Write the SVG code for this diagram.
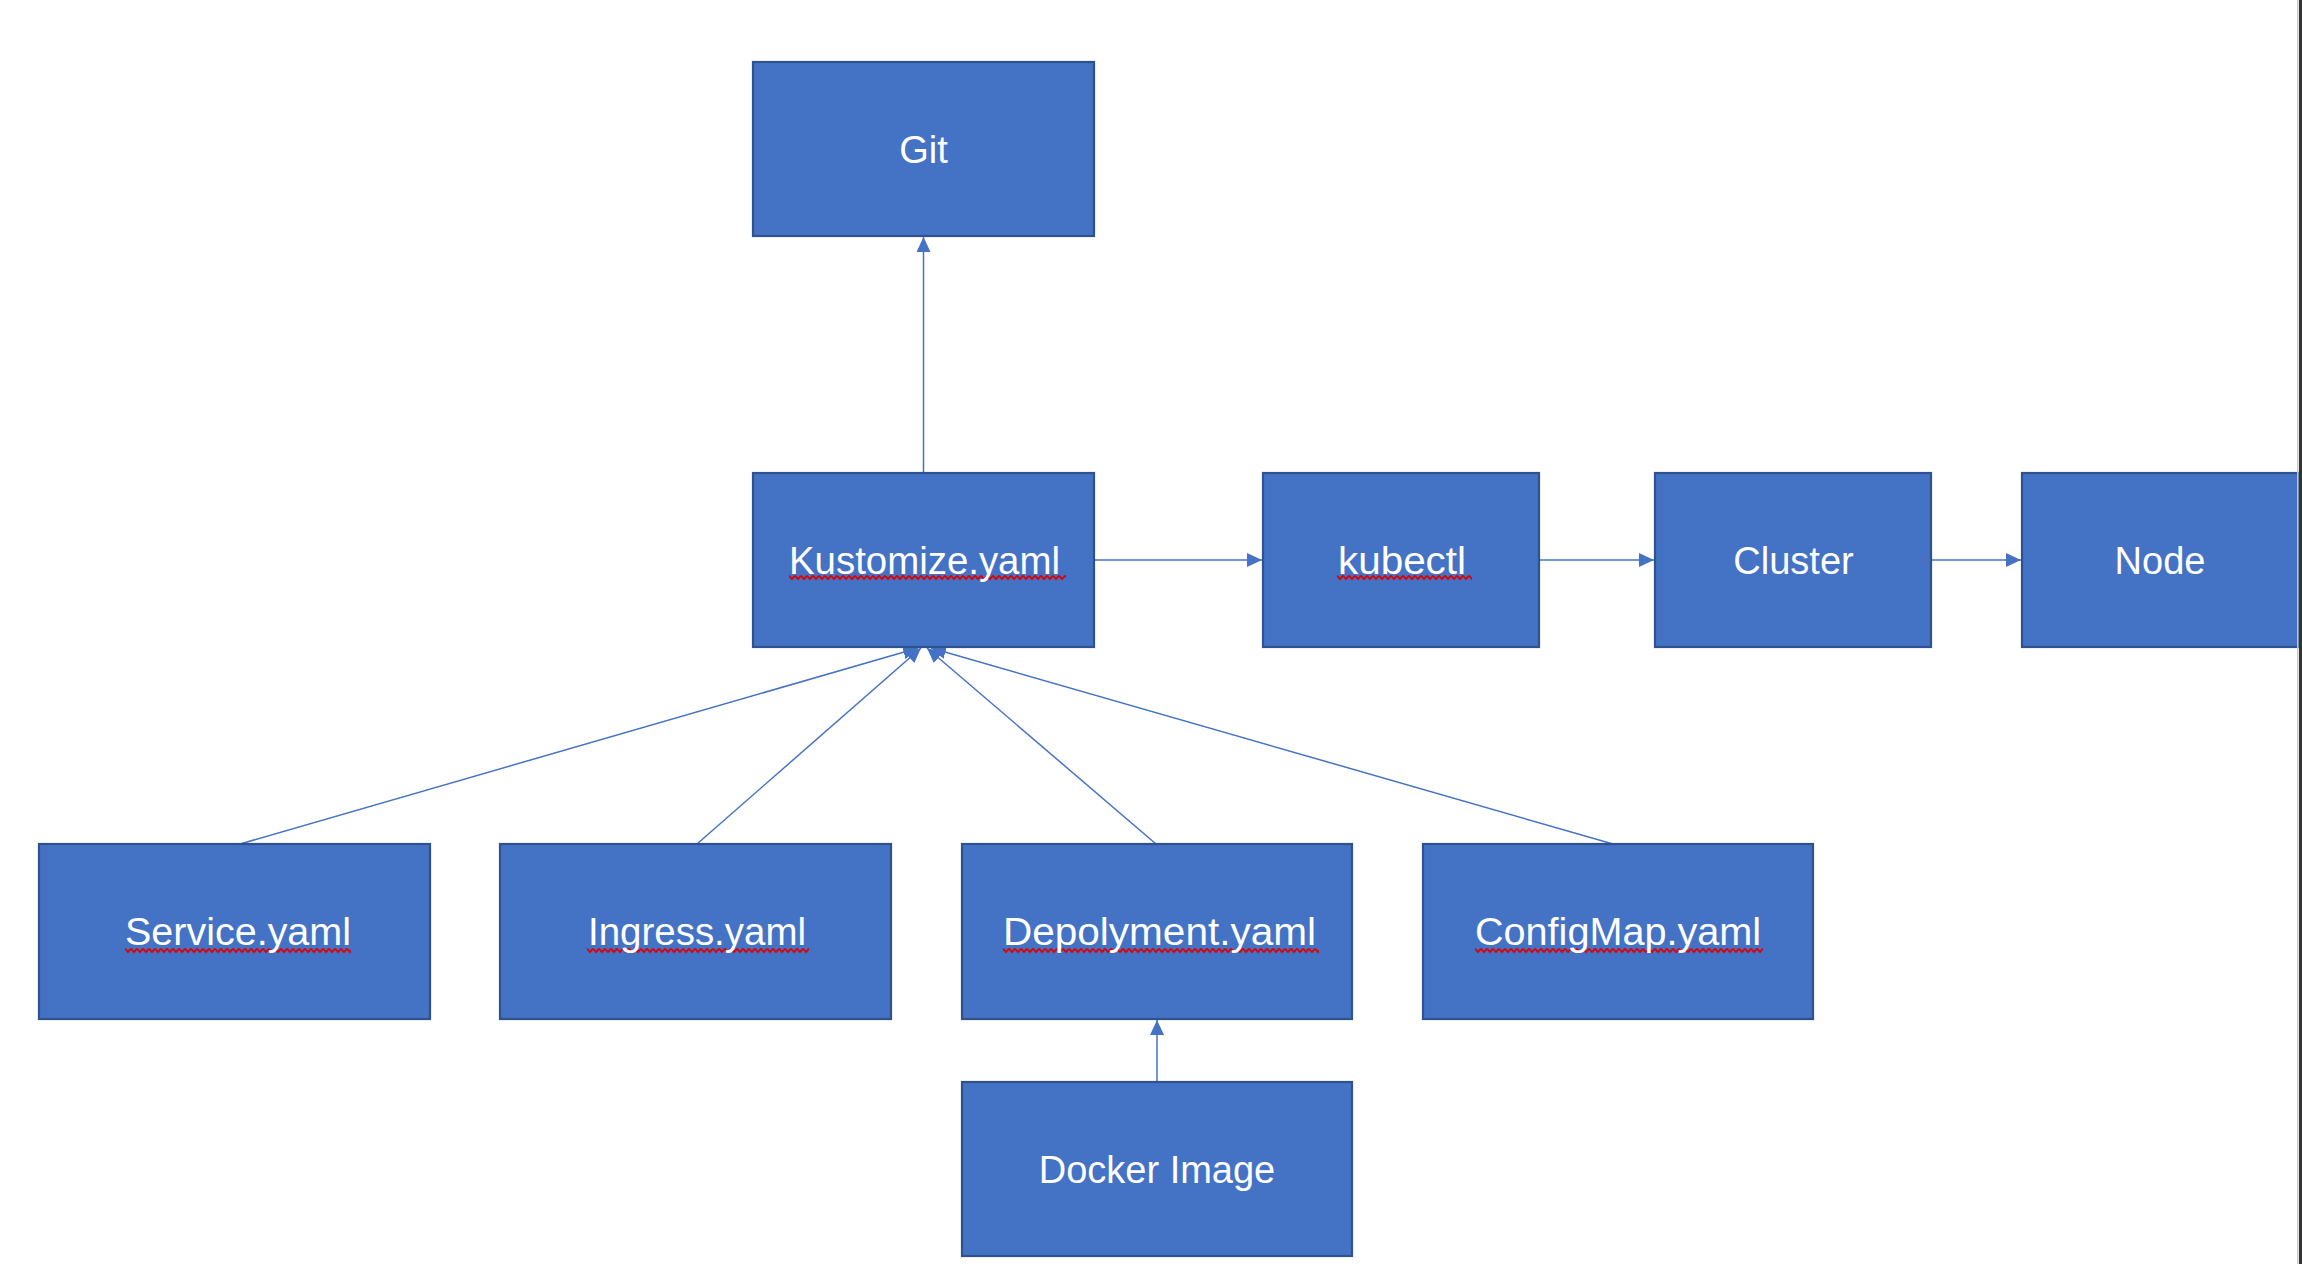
<svg xmlns="http://www.w3.org/2000/svg" width="2302" height="1264" viewBox="0 0 2302 1264">
  <style>
    .box { fill: #4472C4; stroke: #2F528F; stroke-width: 2.2; }
    .lbl { fill: #FFFFFF; font-family: "Liberation Sans", Arial, sans-serif; font-size: 38px; text-anchor: middle; }
    .conn { stroke: #4472C4; stroke-width: 1.5; fill: none; marker-end: url(#arrow); }
  </style>
  <defs>
    <marker id="arrow" markerUnits="userSpaceOnUse" markerWidth="15" markerHeight="14" refX="15" refY="7" orient="auto">
      <path d="M0,0 L15,7 L0,14 Z" fill="#4472C4"/>
    </marker>
    <pattern id="squiggle" patternUnits="userSpaceOnUse" x="0" y="0" width="6" height="7">
      <path d="M0,1.5 L3,5 L6,1.5" fill="none" stroke="#E00000" stroke-width="1.8"/>
    </pattern>
  </defs>
  <rect x="0" y="0" width="2302" height="1264" fill="#FFFFFF"/>

  <g id="connectors">
    <line class="conn" x1="923.5" y1="473" x2="923.5" y2="237"/>
    <line class="conn" x1="1094" y1="560" x2="1262" y2="560"/>
    <line class="conn" x1="1539" y1="560" x2="1654" y2="560"/>
    <line class="conn" x1="1931" y1="560" x2="2021" y2="560"/>
    <line class="conn" x1="240" y1="844" x2="918" y2="648"/>
    <line class="conn" x1="697" y1="844" x2="921" y2="648"/>
    <line class="conn" x1="1156" y1="844" x2="927" y2="648"/>
    <line class="conn" x1="1613" y1="844" x2="931" y2="648"/>
    <line class="conn" x1="1157" y1="1082" x2="1157" y2="1020"/>
  </g>

  <g id="git">
    <rect class="box" x="753" y="62" width="341" height="174"/>
    <text class="lbl" x="923.5" y="162.5">Git</text>
  </g>
  <g id="kustomize">
    <rect class="box" x="753" y="473" width="341" height="174"/>
    <g transform="translate(789,574)"><rect x="0" y="0" width="277" height="7" fill="url(#squiggle)"/></g>
    <text class="lbl" x="924.5" y="573.5" textLength="271" lengthAdjust="spacingAndGlyphs">Kustomize.yaml</text>
  </g>
  <g id="kubectl">
    <rect class="box" x="1263" y="473" width="276" height="174"/>
    <g transform="translate(1337,574)"><rect x="0" y="0" width="135" height="7" fill="url(#squiggle)"/></g>
    <text class="lbl" x="1402" y="573.5" textLength="128" lengthAdjust="spacingAndGlyphs">kubectl</text>
  </g>
  <g id="cluster">
    <rect class="box" x="1655" y="473" width="276" height="174"/>
    <text class="lbl" x="1793.5" y="573.5">Cluster</text>
  </g>
  <g id="node">
    <rect class="box" x="2022" y="473" width="276" height="174"/>
    <text class="lbl" x="2160" y="573.5">Node</text>
  </g>
  <g id="service">
    <rect class="box" x="39" y="844" width="391" height="175"/>
    <g transform="translate(125,947)"><rect x="0" y="0" width="226" height="7" fill="url(#squiggle)"/></g>
    <text class="lbl" x="238" y="945" textLength="226" lengthAdjust="spacingAndGlyphs">Service.yaml</text>
  </g>
  <g id="ingress">
    <rect class="box" x="500" y="844" width="391" height="175"/>
    <g transform="translate(587,947)"><rect x="0" y="0" width="222" height="7" fill="url(#squiggle)"/></g>
    <text class="lbl" x="697" y="945" textLength="218" lengthAdjust="spacingAndGlyphs">Ingress.yaml</text>
  </g>
  <g id="deployment">
    <rect class="box" x="962" y="844" width="390" height="175"/>
    <g transform="translate(1003,947)"><rect x="0" y="0" width="316" height="7" fill="url(#squiggle)"/></g>
    <text class="lbl" x="1159.5" y="945" textLength="313" lengthAdjust="spacingAndGlyphs">Depolyment.yaml</text>
  </g>
  <g id="configmap">
    <rect class="box" x="1423" y="844" width="390" height="175"/>
    <g transform="translate(1475,947)"><rect x="0" y="0" width="288" height="7" fill="url(#squiggle)"/></g>
    <text class="lbl" x="1618" y="945" textLength="286" lengthAdjust="spacingAndGlyphs">ConfigMap.yaml</text>
  </g>
  <g id="docker-image">
    <rect class="box" x="962" y="1082" width="390" height="174"/>
    <text class="lbl" x="1157" y="1182.5">Docker Image</text>
  </g>

  <rect x="2297" y="0" width="1.5" height="1264" fill="#C8C8C8"/>
  <rect x="2299" y="0" width="3" height="1264" fill="#333333"/>
</svg>
